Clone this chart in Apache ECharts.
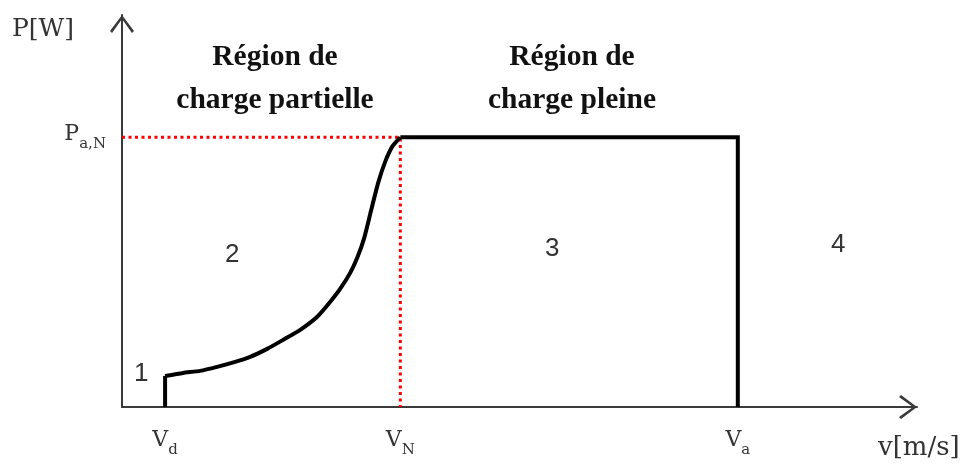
<!DOCTYPE html>
<html>
<head>
<meta charset="utf-8">
<script src="https://cdn.jsdelivr.net/npm/echarts@6/dist/echarts.min.js"></script>
<style>
  html, body { margin: 0; padding: 0; background: #fff; }
  #chart { width: 965px; height: 464px; }
</style>
</head>
<body>
<div id="chart"></div>
<script>
    // valeurs caractéristiques (unités de l'axe, 0..100)
    var vD = 5.42;
    var vN = 35.01;
    var vA = 77.46;
    var pN = 68.8;
    var pDemarrage = 7.93;

    // courbe de charge partielle (entre Vd et VN)
    var curveX = [5.42, 7.68, 9.82, 11.96, 14.23, 16.12, 18.26, 20.28, 22.42, 24.56, 26.20, 27.46, 28.72, 29.60, 30.48, 31.36, 32.24, 33.12, 34.01, 35.01];
    var curveY = [7.93, 8.70, 9.21, 10.23, 11.51, 12.79, 14.83, 17.14, 19.69, 23.02, 26.85, 30.18, 34.27, 38.11, 43.22, 50.38, 57.29, 62.66, 66.50, 68.8];

    var xTicks = [vD, vN, vA];
    var xTickText = ['{b|V}{s|d}', '{b|V}{s|N}', '{b|V}{s|a}'];
    var yTicks = [pN];
    var yTickText = ['{b|P}{s|a,N}'];

    var curve = [];
    for (var i = 0; i < curveX.length; i++) {
        curve.push([curveX[i], curveY[i]]);
    }

    var serif = 'DejaVu Serif';
    var arrow = 'path://M0,16 L12,0 L24,16 L22,18 L12,4 L2,18 Z';
    var richTick = {
        b: { fontFamily: serif, fontSize: 22, color: '#333', padding: [0, 0, 7, 0], verticalAlign: 'bottom' },
        s: { fontFamily: serif, fontSize: 15, color: '#333', verticalAlign: 'bottom' }
    };
    var titleFont = 'bold 29.5px "Liberation Serif"';
    var numFont = '26px "Liberation Sans"';

    var myChart = echarts.init(document.getElementById('chart'));
    var option = {
        backgroundColor: '#fff',
        animation: false,
        grid: { left: 122, right: 48, top: 15, bottom: 57 },
        xAxis: {
            type: 'value', min: 0, max: 100,
            splitLine: { show: false },
            axisLine: {
                lineStyle: { color: '#3a3a3a', width: 2 },
                symbol: ['none', arrow], symbolSize: [24, 18], symbolOffset: [0, -9]
            },
            axisTick: { show: false },
            axisLabel: {
                customValues: xTicks,
                margin: 22,
                formatter: function (v) { return xTickText[xTicks.indexOf(v)] || ''; },
                rich: richTick
            }
        },
        yAxis: {
            type: 'value', min: 0, max: 100,
            splitLine: { show: false },
            axisLine: {
                lineStyle: { color: '#3a3a3a', width: 2 },
                symbol: ['none', arrow], symbolSize: [24, 18], symbolOffset: [0, -9]
            },
            axisTick: { show: false },
            axisLabel: {
                customValues: yTicks,
                margin: 16,
                formatter: function (v) { return yTickText[yTicks.indexOf(v)] || ''; },
                rich: richTick
            }
        },
        series: [
            {
                // repères en pointillés rouges
                type: 'line', symbol: 'none', z: 1,
                data: [[0, pN], [vN, pN], [vN, 0]],
                lineStyle: { color: '#ff0000', width: 3, type: [3, 3.5] }
            },
            {
                type: 'line', symbol: 'none', z: 2,
                data: [[vD, 0], [vD, pDemarrage]],
                lineStyle: { color: '#000', width: 4 }
            },
            {
                type: 'line', symbol: 'none', z: 2, smooth: 0.2,
                data: curve,
                lineStyle: { color: '#000', width: 4 }
            },
            {
                type: 'line', symbol: 'none', z: 2,
                data: [[vN, pN], [vA, pN], [vA, 0]],
                lineStyle: { color: '#000', width: 4, join: 'miter' }
            }
        ],
        graphic: [
            { type: 'text', x: 12, y: 17, style: { text: 'P[W]', font: '25px "DejaVu Serif"', fill: '#333' } },
            { type: 'text', x: 878, y: 435, style: { text: 'v[m/s]', font: '26px "DejaVu Serif"', fill: '#333' } },
            { type: 'text', x: 275, y: 36, style: { text: 'Région de\ncharge partielle', font: titleFont, fill: '#111', align: 'center', textAlign: 'center', lineHeight: 43 } },
            { type: 'text', x: 572, y: 36, style: { text: 'Région de\ncharge pleine', font: titleFont, fill: '#111', align: 'center', textAlign: 'center', lineHeight: 43 } },
            { type: 'text', x: 134, y: 361, style: { text: '1', font: numFont, fill: '#333' } },
            { type: 'text', x: 225, y: 242, style: { text: '2', font: numFont, fill: '#333' } },
            { type: 'text', x: 545, y: 236, style: { text: '3', font: numFont, fill: '#333' } },
            { type: 'text', x: 831, y: 232, style: { text: '4', font: numFont, fill: '#333' } }
        ]
    };
    myChart.setOption(option);
</script>
</body>
</html>
